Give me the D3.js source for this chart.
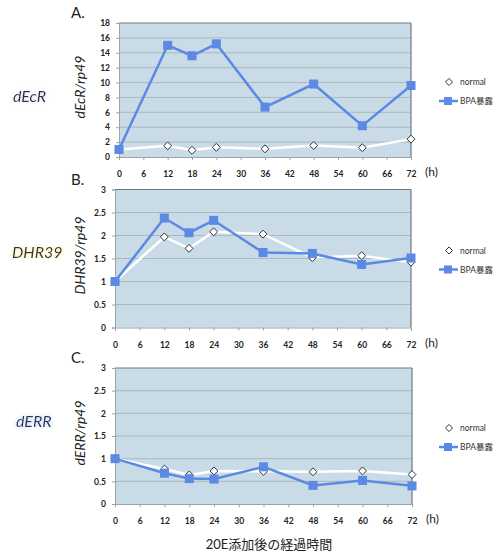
<!DOCTYPE html>
<html>
<head>
<meta charset="utf-8">
<script src="https://cdn.jsdelivr.net/npm/d3@7"></script>
<style>
  html, body { margin: 0; padding: 0; background: #fff; }
  svg { display: block; }
  text { font-family: Lato, "Open Sans", "Noto Sans CJK JP", sans-serif; }
</style>
</head>
<body>
<svg id="chart" width="499" height="552"></svg>
<script>
// Sampling times after 20E addition (hours)
const hours = [0, 12, 18, 24, 36, 48, 60, 72];
const hourTicks = [0, 6, 12, 18, 24, 30, 36, 42, 48, 54, 60, 66, 72];

// Relative expression (gene / rp49)
const ecrNormal = [1.0, 1.5, 0.9, 1.3, 1.1, 1.55, 1.25, 2.4];
const ecrBPA    = [1.0, 15.0, 13.6, 15.2, 6.7, 9.8, 4.2, 9.6];
const hr39Normal = [1.0, 1.97, 1.72, 2.08, 2.03, 1.52, 1.56, 1.42];
const hr39BPA    = [1.0, 2.38, 2.06, 2.33, 1.63, 1.61, 1.37, 1.51];
const errNormal = [1.0, 0.77, 0.64, 0.73, 0.72, 0.71, 0.73, 0.65];
const errBPA    = [1.0, 0.68, 0.56, 0.55, 0.82, 0.41, 0.52, 0.40];

const ecrTicks = [0, 2, 4, 6, 8, 10, 12, 14, 16, 18];
const fracTicks = [0, 0.5, 1, 1.5, 2, 2.5, 3];

const seriesNames = ["normal", "BPA暴露"];
const xAxisTitle = "20E添加後の経過時間";

const panels = [
  { letter: "A.", gene: "dEcR", yTitle: "dEcR/rp49", normal: ecrNormal, bpa: ecrBPA,
    yMax: 18, ticks: ecrTicks, left: 119, right: 411, top: 23, bottom: 157,
    geneX: 13, geneY: 102, geneColor: "#2a2f4a", glow: "#d8dcf0" },
  { letter: "B.", gene: "DHR39", yTitle: "DHR39/rp49", normal: hr39Normal, bpa: hr39BPA,
    yMax: 3, ticks: fracTicks, left: 115, right: 411, top: 189.5, bottom: 327.5,
    geneX: 12, geneY: 258, geneColor: "#3a3520", glow: "#f3e6a0" },
  { letter: "C.", gene: "dERR", yTitle: "dERR/rp49", normal: errNormal, bpa: errBPA,
    yMax: 3, ticks: fracTicks, left: 115, right: 412, top: 368, bottom: 504,
    geneX: 16, geneY: 427, geneColor: "#2a3560", glow: "#b8ccf4" }
];

const svg = d3.select("#chart");
const defs = svg.append("defs");

panels.forEach((p, i) => {
  const f = defs.append("filter").attr("id", "glow" + i)
    .attr("x", "-20%").attr("y", "-40%").attr("width", "140%").attr("height", "180%");
  f.append("feDropShadow").attr("dx", 0).attr("dy", 0).attr("stdDeviation", 2.2)
    .attr("flood-color", p.glow).attr("flood-opacity", 1);
});

const blue = "#5b89e3";
const gridColor = "#a9b4ba";

panels.forEach((p, i) => {
  const x = d3.scaleLinear().domain([0, 72]).range([p.left, p.right]);
  const y = d3.scaleLinear().domain([0, p.yMax]).range([p.bottom, p.top]);
  const g = svg.append("g");

  // plot area
  g.append("rect")
    .attr("x", p.left).attr("y", p.top)
    .attr("width", p.right - p.left).attr("height", p.bottom - p.top)
    .attr("fill", "#c9dbe7");

  // horizontal gridlines
  g.append("g").selectAll("line").data(p.ticks.slice(1))
    .join("line")
    .attr("x1", p.left).attr("x2", p.right)
    .attr("y1", d => y(d)).attr("y2", d => y(d))
    .attr("stroke", d => d === p.yMax ? "#6f7a80" : gridColor)
    .attr("stroke-width", d => d === p.yMax ? 1.2 : 0.9);

  // right border
  g.append("line").attr("x1", p.right).attr("x2", p.right)
    .attr("y1", p.top).attr("y2", p.bottom)
    .attr("stroke", "#6f7a80").attr("stroke-width", 1.2);

  // y axis
  const yAxis = d3.axisLeft(y).tickValues(p.ticks).tickSize(3).tickPadding(6)
    .tickFormat(d3.format("~g"));
  const ya = g.append("g").attr("transform", `translate(${p.left},0)`).call(yAxis);
  ya.select(".domain").attr("stroke", "#9aa4aa");
  ya.selectAll(".tick line").attr("stroke", "#9aa4aa");
  ya.selectAll("text").attr("font-size", 8.5).attr("font-weight", 700).attr("fill", "#222");

  // x axis
  const xAxis = d3.axisBottom(x).tickValues(hourTicks).tickSize(3).tickPadding(11);
  const xa = g.append("g").attr("transform", `translate(0,${p.bottom})`).call(xAxis);
  xa.select(".domain").attr("stroke", "#9aa4aa");
  xa.selectAll(".tick line").attr("stroke", "#9aa4aa");
  xa.selectAll("text").attr("font-size", 8.5).attr("font-weight", 700).attr("fill", "#222");

  g.append("text").attr("x", p.right + 14).attr("y", p.bottom + 19)
    .attr("font-size", 12).attr("fill", "#222").text("(h)");

  // panel letter
  g.append("text").attr("x", 71).attr("y", p.top - 5)
    .attr("font-size", 15).attr("fill", "#222").text(p.letter);

  // gene label
  g.append("text").attr("x", p.geneX).attr("y", p.geneY)
    .attr("font-size", 16).attr("font-style", "italic").attr("fill", p.geneColor)
    .attr("filter", `url(#glow${i})`).text(p.gene);

  // y axis title
  const cy = (p.top + p.bottom) / 2 - 3;
  g.append("text").attr("transform", `translate(85,${cy}) rotate(-90)`)
    .attr("text-anchor", "middle").attr("font-size", 14).attr("font-style", "italic")
    .attr("fill", "#222").text(p.yTitle);

  const line = d3.line().x((d, k) => x(hours[k])).y(d => y(d));

  // normal series
  g.append("path").datum(p.normal).attr("d", line)
    .attr("fill", "none").attr("stroke", "#fff").attr("stroke-width", 2.5);
  // BPA series
  g.append("path").datum(p.bpa).attr("d", line)
    .attr("fill", "none").attr("stroke", blue).attr("stroke-width", 2.5);

  const diamond = d3.symbol().type(d3.symbolDiamond2).size(40);
  g.append("g").selectAll("path").data(p.normal).join("path")
    .attr("transform", (d, k) => `translate(${x(hours[k])},${y(d)})`)
    .attr("d", diamond).attr("fill", "#fff").attr("stroke", "#333").attr("stroke-width", 1);

  g.append("g").selectAll("rect").data(p.bpa).join("rect")
    .attr("x", (d, k) => x(hours[k]) - 4.5).attr("y", d => y(d) - 4.5)
    .attr("width", 9).attr("height", 9).attr("fill", blue);

  // legend
  const ly = (p.top + p.bottom) / 2;
  const legend = g.append("g");
  legend.append("path").attr("transform", `translate(449,${ly - 8})`)
    .attr("d", d3.symbol().type(d3.symbolDiamond2).size(32))
    .attr("fill", "#fff").attr("stroke", "#333").attr("stroke-width", 1);
  legend.append("text").attr("x", 460).attr("y", ly - 5)
    .attr("font-size", 8.5).attr("fill", "#333").text(seriesNames[0]);
  legend.append("line").attr("x1", 439).attr("x2", 458)
    .attr("y1", ly + 11).attr("y2", ly + 11).attr("stroke", blue).attr("stroke-width", 2.5);
  legend.append("rect").attr("x", 444).attr("y", ly + 7).attr("width", 8).attr("height", 8)
    .attr("fill", blue);
  legend.append("text").attr("x", 460).attr("y", ly + 14)
    .attr("font-size", 8.5).attr("fill", "#333").text(seriesNames[1]);
});

svg.append("text").attr("x", 269).attr("y", 549)
  .attr("text-anchor", "middle").attr("font-size", 13).attr("fill", "#222")
  .attr("font-family", "'Noto Sans CJK JP', sans-serif")
  .text(xAxisTitle);
</script>
</body>
</html>
